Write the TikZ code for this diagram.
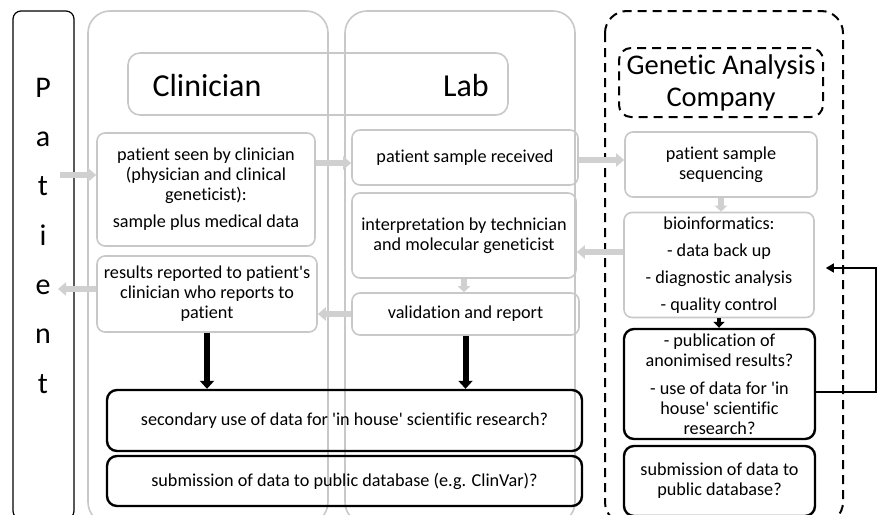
\documentclass[tikz,border=0pt]{standalone}
\usepackage{fontspec}
\setmainfont{Carlito}[Ligatures = {NoCommon}]
\usetikzlibrary{arrows.meta}

\definecolor{boxgray}{RGB}{200, 200, 200}
\definecolor{arrowgray}{RGB}{208, 208, 208}

\begin{document}
\begin{tikzpicture}[x = 1pt, y = -1pt,
	column/.style = {draw = boxgray, line width = 1.6pt, rounded corners = 22pt},
	graybox/.style = {draw = boxgray, line width = 1.6pt, rounded corners = 8pt, align = center, inner sep = 0pt, font = \fontsize{18.2pt}{20pt}\selectfont},
	blackbox/.style = {draw, line width = 2.4pt, rounded corners = 10pt, align = center, inner sep = 0pt, font = \fontsize{18.2pt}{20pt}\selectfont},
	title/.style = {inner sep = 0pt, font = \fontsize{32pt}{34pt}\selectfont},
	grayarrow/.style = {draw = arrowgray, line width = 6.5pt, -{Triangle[length = 8pt, width = 13pt]}},
	blackarrow/.style = {line width = 6pt, -{Triangle[length = 8pt, width = 14pt]}}
]
	\useasboundingbox (0, 0) rectangle (877, 514);
	\clip (0, 0) rectangle (877, 514);

	% Patient:
	\node [draw, line width = 1.2pt, rounded corners = 8pt, minimum width = 61pt, minimum height = 508pt] (patient) at (43.5, 265) {};
	\foreach \letter [count = \i] in {P, a, t, i, e, n, t} {
		\node [title, font = \fontsize{30pt}{32pt}\selectfont, anchor = base] (letter\i) at (43, 48 + 49.3 * \i) {\letter};
	}

	% Spalten:
	\draw [column] (88, 11) rectangle (328, 524);
	\draw [column] (345, 11) rectangle (575, 524);
	\draw [column, draw = black, line width = 2pt, dash pattern = on 9pt off 6pt] (605, 11) rectangle (843, 524);

	% Titel:
	\node [graybox, rounded corners = 12pt, minimum width = 380pt, minimum height = 62pt] (head) at (318, 84) {};
	\node [title] (clinician) at (207, 86) {Clinician};
	\node [title] (lab) at (466, 86) {Lab};
	\node [title, font = \fontsize{28.5pt}{32pt}\selectfont, draw, line width = 2pt, dash pattern = on 9pt off 6pt, rounded corners = 12pt, align = center, minimum width = 204pt, minimum height = 69pt] (company) at (721, 82.5) {Genetic Analysis\\Company};

	% Clinician:
	\node [graybox, minimum width = 218pt, minimum height = 113pt] (seen) at (206, 189.5) {patient seen by clinician\\(physician and clinical\\geneticist):\\[7pt]sample plus medical data};
	\node [graybox, minimum width = 220pt, minimum height = 76pt] (res) at (207, 294) {results reported to patient\textquotesingle s\\clinician who reports to\\patient};

	% Lab:
	\node [graybox, minimum width = 226pt, minimum height = 55pt] (recv) at (465, 157.5) {patient sample received};
	\node [graybox, minimum width = 224pt, minimum height = 85pt] (interp) at (464, 235.5) {interpretation by technician\\and molecular geneticist};
	\node [graybox, minimum width = 227pt, minimum height = 42pt] (valid) at (465.5, 314) {validation and report};

	% Company:
	\node [graybox, minimum width = 192pt, minimum height = 65pt] (seq) at (721, 164.5) {patient sample\\sequencing};
	\node [graybox, minimum width = 190pt, minimum height = 105pt] (bioinf) at (719, 265) {bioinformatics:\\[7pt]- data back up\\[7pt]- diagnostic analysis\\[7pt]- quality control};
	\node [blackbox, minimum width = 191pt, minimum height = 110pt] (pub) at (719.5, 384) {- publication of\\anonimised results?\\[8pt]- use of data for \textquotesingle in\\house\textquotesingle{} scientific\\research?};
	\node [blackbox, minimum width = 191pt, minimum height = 70pt] (subc) at (719.5, 481) {submission of data to\\public database?};

	% Sekundaere Nutzung:
	\node [blackbox, minimum width = 475pt, minimum height = 61pt] (sec) at (344.5, 420.5) {secondary use of data for \textquotesingle in house\textquotesingle{} scientific research?};
	\node [blackbox, minimum width = 475pt, minimum height = 50pt] (sub) at (344.5, 481) {submission of data to public database (e.g. ClinVar)?};

	% Pfeile grau:
	\coordinate (patin) at (60, 175);
	\coordinate (patout) at (58, 289);
	\coordinate (tolab) at (0, 163);
	\coordinate (tocomp) at (0, 160);
	\coordinate (toint) at (0, 252);
	\draw [grayarrow] (patin) -- (patin -| seen.west);
	\draw [grayarrow] (tolab -| seen.east) -- (tolab -| recv.west);
	\draw [grayarrow] (tocomp -| recv.east) -- (tocomp -| seq.west);
	\draw [grayarrow, -{Triangle[length = 6pt, width = 12pt]}] (seq.south) -- (seq.south |- bioinf.north);
	\draw [grayarrow] (toint -| bioinf.west) -- (toint -| interp.east);
	\draw [grayarrow, -{Triangle[length = 6pt, width = 12pt]}] (interp.south) -- (interp.south |- valid.north);
	\draw [grayarrow] (valid.west) -- (valid.west -| res.east);
	\draw [grayarrow] (patout -| res.west) -- (patout);

	% Pfeile schwarz:
	\draw [blackarrow] (res.south) -- (res.south |- sec.north);
	\draw [blackarrow] (valid.south) -- (valid.south |- sec.north);
	\draw [blackarrow, line width = 4pt, -{Triangle[length = 6pt, width = 11pt]}] (bioinf.south) -- (bioinf.south |- pub.north);

	% Rueckfuehrung:
	\coordinate (loop) at (876, 268);
	\draw [line width = 1.4pt, -{Triangle[length = 8pt, width = 9pt]}, shorten > = 11pt] ([yshift = -8pt]pub.east) -| (loop) -- (loop -| bioinf.east);
\end{tikzpicture}
\end{document}
